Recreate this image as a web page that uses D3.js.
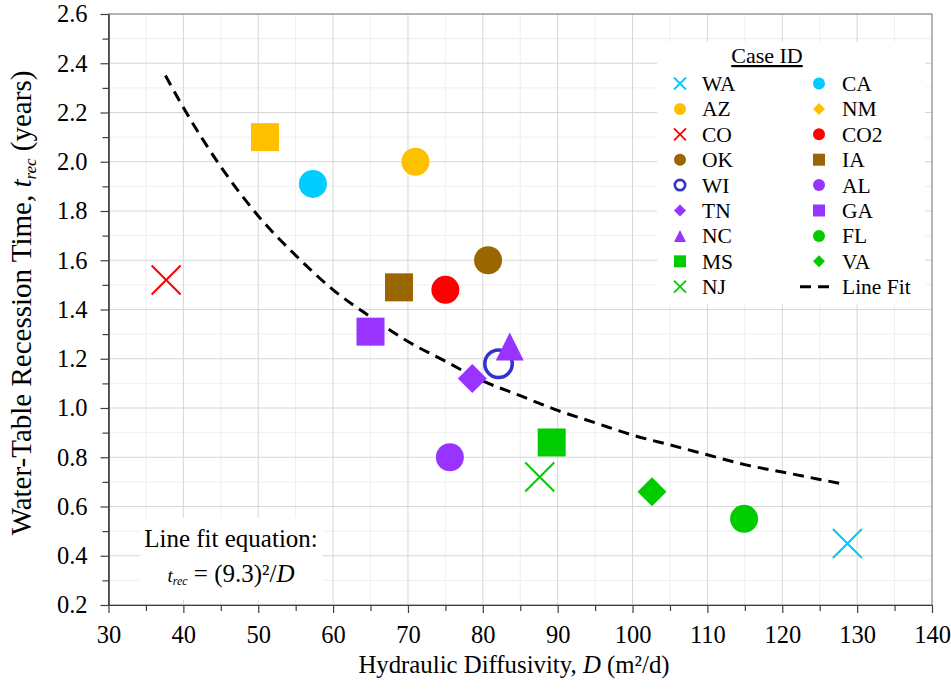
<!DOCTYPE html>
<html>
<head>
<meta charset="utf-8">
<script src="https://cdn.jsdelivr.net/npm/d3@7"></script>
<style>
  body { margin: 0; background: #fff; }
  text { font-family: "Liberation Serif", "Times New Roman", serif; fill: #000; }
</style>
</head>
<body>
<svg width="951" height="698"></svg>
<script>
// case data, in legend (series) order
var cases = ['WA', 'CA', 'AZ', 'NM', 'CO', 'CO2', 'OK', 'IA', 'WI', 'AL', 'TN', 'GA', 'NC', 'FL', 'MS', 'VA', 'NJ'];
var diffusivity = [128.7, 57.3, 71.0, 50.9, 37.7, 75.0, 80.7, 68.8, 82.1, 75.6, 78.6, 65.0, 83.6, 114.9, 89.2, 102.6, 87.6];
var recession = [0.45, 1.91, 2.00, 2.10, 1.52, 1.48, 1.60, 1.49, 1.18, 0.80, 1.12, 1.31, 1.25, 0.55, 0.86, 0.66, 0.72];
var colors = ['#00c8f5', '#00ccff', '#ffc000', '#ffc000', '#ff0000', '#ff0000', '#996600', '#996600', '#3333cc',
  '#9933ff', '#9933ff', '#9933ff', '#9933ff', '#00cc00', '#00cc00', '#00cc00', '#00cc00'];
var plotShapes = ['x', 'circle', 'circle', 'square', 'x', 'circle', 'circle', 'square', 'ring',
  'circle', 'diamond', 'square', 'triangle', 'circle', 'square', 'diamond', 'x'];
var legendShapes = ['x', 'circle', 'circle', 'diamond', 'x', 'circle', 'circle', 'square', 'ring',
  'circle', 'diamond', 'square', 'triangle', 'circle', 'square', 'diamond', 'x'];

// line fit
var fitD = [37.6, 40, 45, 50, 55, 60, 65, 70, 75, 80, 85, 90, 95, 100, 105, 110, 115, 120, 125, 128.3];
var fitT = [2.35, 2.22, 1.98, 1.78, 1.62, 1.48, 1.37, 1.27, 1.19, 1.11, 1.05, 0.99, 0.94, 0.89, 0.85, 0.81, 0.77, 0.74, 0.71, 0.69];

var xTicks = [30, 40, 50, 60, 70, 80, 90, 100, 110, 120, 130, 140];
var yTicks = [0.2, 0.4, 0.6, 0.8, 1.0, 1.2, 1.4, 1.6, 1.8, 2.0, 2.2, 2.4, 2.6];

var svg = d3.select('svg');
var pLeft = 108.5, pRight = 932, pTop = 14, pBottom = 605;

var x = d3.scaleLinear().domain([30, 140]).range([pLeft, pRight]);
var y = d3.scaleLinear().domain([0.2, 2.6]).range([pBottom, pTop]);

// minor and major gridlines
var xMinor = d3.range(35, 140, 10);
var yMinor = d3.range(0.3, 2.6, 0.2);
var grid = svg.append('g');
grid.selectAll('.gxm').data(xMinor).enter().append('line')
  .attr('x1', d => x(d)).attr('x2', d => x(d)).attr('y1', pTop).attr('y2', pBottom)
  .attr('stroke', '#efefef');
grid.selectAll('.gym').data(yMinor).enter().append('line')
  .attr('x1', pLeft).attr('x2', pRight).attr('y1', d => y(d)).attr('y2', d => y(d))
  .attr('stroke', '#efefef');
grid.selectAll('.gx').data(xTicks).enter().append('line')
  .attr('x1', d => x(d)).attr('x2', d => x(d)).attr('y1', pTop).attr('y2', pBottom)
  .attr('stroke', '#d6d6d6');
grid.selectAll('.gy').data(yTicks).enter().append('line')
  .attr('x1', pLeft).attr('x2', pRight).attr('y1', d => y(d)).attr('y2', d => y(d))
  .attr('stroke', '#d6d6d6');

// white boxes behind legend and equation
svg.append('rect').attr('x', 657).attr('y', 42).attr('width', 268).attr('height', 262).attr('fill', '#fff');
svg.append('rect').attr('x', 140).attr('y', 518).attr('width', 183).attr('height', 82).attr('fill', '#fff');

// plot border
svg.append('rect')
  .attr('x', pLeft).attr('y', pTop).attr('width', pRight - pLeft).attr('height', pBottom - pTop)
  .attr('fill', 'none').attr('stroke', '#7f7f7f');

// axes
var xAxis = svg.append('g').attr('transform', 'translate(0,' + pBottom + ')');
xAxis.append('g').call(d3.axisBottom(x).tickValues(xMinor).tickSize(6).tickSizeOuter(0).tickFormat(''));
xAxis.append('g').call(d3.axisBottom(x).tickValues(xTicks).tickSize(8).tickSizeOuter(0).tickPadding(13));
var yAxis = svg.append('g').attr('transform', 'translate(' + pLeft + ',0)');
yAxis.append('g').call(d3.axisLeft(y).tickValues(yMinor).tickSize(6).tickSizeOuter(0).tickFormat(''));
yAxis.append('g').call(d3.axisLeft(y).tickValues(yTicks).tickSize(8).tickSizeOuter(0).tickPadding(13)
  .tickFormat(d3.format('.1f')));
svg.selectAll('.domain, .tick line').attr('stroke', '#404040').attr('stroke-width', 1.2);
svg.selectAll('.tick text').attr('font-size', 24.5).attr('font-family', '"Liberation Serif", serif').attr('fill', '#000');

// fitted curve
var line = d3.line()
  .curve(d3.curveMonotoneX)
  .x(function(d, i) { return x(fitD[i]); })
  .y(function(d, i) { return y(fitT[i]); });
svg.append('path')
  .datum(fitD)
  .attr('d', line)
  .attr('fill', 'none')
  .attr('stroke', '#000')
  .attr('stroke-width', 3)
  .attr('stroke-dasharray', '11,7');

// marker drawing
function marker(g, shape, s, color) {
  var h = s / 2;
  var p = g.append('path');
  if (shape === 'circle') {
    p.attr('d', d3.symbol(d3.symbolCircle, Math.PI * h * h)()).attr('fill', color);
  } else if (shape === 'square') {
    p.attr('d', 'M' + -h + ',' + -h + 'H' + h + 'V' + h + 'H' + -h + 'Z').attr('fill', color);
  } else if (shape === 'diamond') {
    p.attr('d', 'M0,' + -h + 'L' + h + ',0L0,' + h + 'L' + -h + ',0Z').attr('fill', color);
  } else if (shape === 'triangle') {
    p.attr('d', 'M0,' + -h + 'L' + h + ',' + h + 'L' + -h + ',' + h + 'Z').attr('fill', color);
  } else if (shape === 'x') {
    p.attr('d', 'M' + -h + ',' + -h + 'L' + h + ',' + h + 'M' + h + ',' + -h + 'L' + -h + ',' + h)
      .attr('fill', 'none').attr('stroke', color).attr('stroke-width', s > 20 ? 2 : 1.8);
  } else if (shape === 'ring') {
    var w = s > 20 ? 3.5 : 2.6;
    p.attr('d', d3.symbol(d3.symbolCircle, Math.PI * (h - w / 2) * (h - w / 2))())
      .attr('fill', 'none').attr('stroke', color).attr('stroke-width', w);
  }
}

var sizes = {circle: 28, square: 28, diamond: 29, triangle: 28, x: 29, ring: 31};
cases.forEach(function(c, i) {
  var g = svg.append('g').attr('transform', 'translate(' + x(diffusivity[i]) + ',' + y(recession[i]) + ')');
  marker(g, plotShapes[i], sizes[plotShapes[i]], colors[i]);
});

// legend
var legend = svg.append('g');
legend.append('text')
  .attr('x', 767).attr('y', 63)
  .attr('text-anchor', 'middle')
  .attr('font-size', 22)
  .attr('text-decoration', 'underline')
  .text('Case ID');
var rowY = function(r) { return 83.5 + r * 25.4; };
cases.forEach(function(c, i) {
  var col = i % 2, row = Math.floor(i / 2);
  var mx = col ? 819 : 680, tx = col ? 842 : 702;
  var g = legend.append('g').attr('transform', 'translate(' + mx + ',' + rowY(row) + ')');
  marker(g, legendShapes[i], legendShapes[i] === 'ring' ? 13 : 12, colors[i]);
  legend.append('text').attr('x', tx).attr('y', rowY(row) + 7.5).attr('font-size', 21.5).text(c);
});
legend.append('line')
  .attr('x1', 800).attr('x2', 830).attr('y1', rowY(8)).attr('y2', rowY(8))
  .attr('stroke', '#000').attr('stroke-width', 3).attr('stroke-dasharray', '11,7');
legend.append('text').attr('x', 842).attr('y', rowY(8) + 7.5).attr('font-size', 21.5).text('Line Fit');

// equation note
svg.append('text').attr('x', 231).attr('y', 547).attr('text-anchor', 'middle').attr('font-size', 25)
  .text('Line fit equation:');
var eq = svg.append('text').attr('x', 231).attr('y', 582).attr('text-anchor', 'middle').attr('font-size', 25);
eq.append('tspan').attr('font-style', 'italic').attr('font-size', 19).text('t');
eq.append('tspan').attr('font-style', 'italic').attr('font-size', 12).attr('dy', 3).text('rec');
eq.append('tspan').attr('dy', -3).text(' = (9.3)²/');
eq.append('tspan').attr('font-style', 'italic').text('D');

// axis titles
var xt = svg.append('text').attr('x', 514).attr('y', 673).attr('text-anchor', 'middle').attr('font-size', 24.8);
xt.append('tspan').text('Hydraulic Diffusivity, ');
xt.append('tspan').attr('font-style', 'italic').text('D');
xt.append('tspan').text(' (m²/d)');

var yt = svg.append('text').attr('transform', 'translate(31,303) rotate(-90)')
  .attr('text-anchor', 'middle').attr('font-size', 29);
yt.append('tspan').text('Water-Table Recession Time, ');
yt.append('tspan').attr('font-style', 'italic').text('t');
yt.append('tspan').attr('font-style', 'italic').attr('font-size', 17).attr('dy', 5).text('rec');
yt.append('tspan').attr('dy', -5).text(' (years)');
</script>
</body>
</html>
